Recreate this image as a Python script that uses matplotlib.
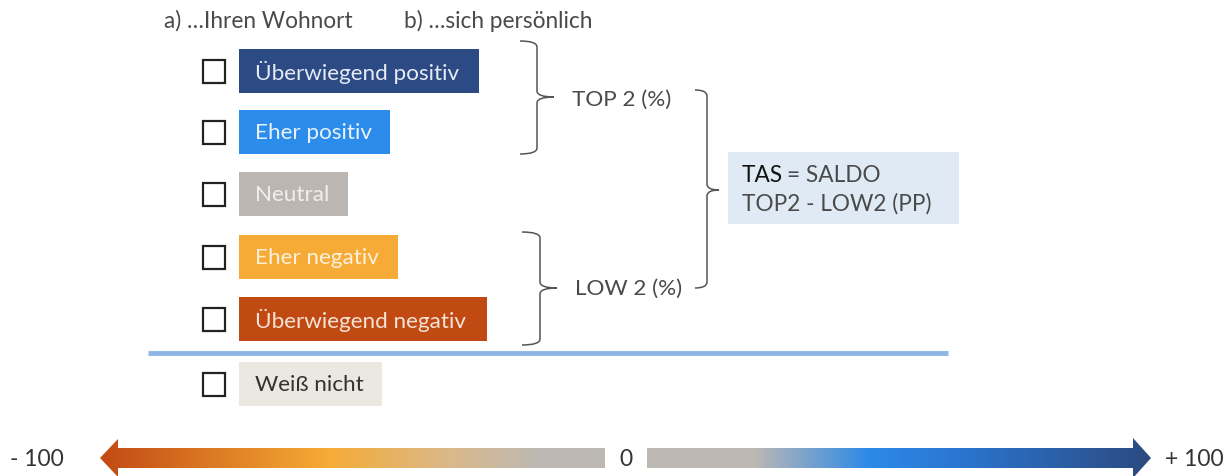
import numpy as np
import matplotlib
matplotlib.use("Agg")
import matplotlib.pyplot as plt
from matplotlib.patches import Rectangle, Polygon, PathPatch
from matplotlib.path import Path
from matplotlib.colors import LinearSegmentedColormap

plt.rcParams['font.family'] = ['Lato', 'DejaVu Sans']

# ---- content ----
headers = ["a) \u2026Ihren Wohnort", "b) \u2026sich pers\u00f6nlich"]
categories = ["\u00dcberwiegend positiv", "Eher positiv", "Neutral",
              "Eher negativ", "\u00dcberwiegend negativ", "Wei\u00df nicht"]
cat_colors = ["#2c4a84", "#2b8ceb", "#bcb6b2", "#f5ab35", "#c04a12", "#ebe8e1"]
cat_text_colors = ["#e6ebf3", "#e8f2fc", "#f1efed", "#fdf1de", "#f6e2d6", "#333333"]
group_labels = ["TOP 2 (%)", "LOW 2 (%)"]
tas_bold = "TAS"
tas_rest = "= SALDO"
tas_line2 = "TOP2 - LOW2 (PP)"
scale_labels = ["- 100", "0", "+ 100"]

# ---- layout (pixel coordinates) ----
W, H = 1230, 476
fig = plt.figure(figsize=(W / 100, H / 100), dpi=100)
ax = fig.add_axes([0, 0, 1, 1])
ax.set_xlim(0, W)
ax.set_ylim(H, 0)
ax.axis('off')

gray = "#4a4a4a"
fw = 'normal'

ax.text(164, 21, headers[0], fontsize=16.3, color=gray, va='center', ha='left', fontweight=fw)
ax.text(404, 21, headers[1], fontsize=16.3, color=gray, va='center', ha='left', fontweight=fw)

box_tops = [49, 110, 172, 235, 297, 362]
box_rights = [479, 390, 348, 398, 487, 382]
box_h = 44
box_left = 239
for i, cat in enumerate(categories):
    y0 = box_tops[i]
    ax.add_patch(Rectangle((box_left, y0), box_rights[i] - box_left, box_h,
                           facecolor=cat_colors[i], edgecolor='none'))
    yc = y0 + box_h / 2
    ax.text(box_left + 16, yc + 1, cat, fontsize=16.2, color=cat_text_colors[i],
            va='center', ha='left', fontweight=fw)
    ax.add_patch(Rectangle((203, yc - 11.5), 22, 23, facecolor='white',
                           edgecolor='#222222', lw=1.6))

# separator line
ax.plot([148, 948], [353, 353], color="#8db5e5", lw=3.5, solid_capstyle='butt')


def brace(x0, x1, xtip, ytop, ybot, ymid, r=6, lw=1.1):
    verts = [(x0, ytop), (x1, ytop), (x1, ytop + r),
             (x1, ymid - r), (x1, ymid), (xtip, ymid),
             (x1, ymid), (x1, ymid + r),
             (x1, ybot - r), (x1, ybot), (x0, ybot)]
    codes = [Path.MOVETO, Path.CURVE3, Path.CURVE3,
             Path.LINETO, Path.CURVE3, Path.CURVE3,
             Path.CURVE3, Path.CURVE3,
             Path.LINETO, Path.CURVE3, Path.CURVE3]
    ax.add_patch(PathPatch(Path(verts, codes), facecolor='none',
                           edgecolor='#555555', lw=lw))


brace(520, 537, 554, 41, 154, 97)
brace(522, 540, 557, 232, 345, 288)
brace(695, 707, 719, 90, 288, 190)

ax.text(572, 100, group_labels[0], fontsize=16.2, color=gray, va='center', ha='left', fontweight=fw)
ax.text(575, 289, group_labels[1], fontsize=16.2, color=gray, va='center', ha='left', fontweight=fw)

# TAS box
ax.add_patch(Rectangle((728, 152), 231, 72, facecolor="#dfeaf5", edgecolor='none'))
t1 = ax.text(742, 176, tas_bold, fontsize=16.3, color="#111111", va='center', ha='left')
ax.annotate(tas_rest, xy=(1, 0.5), xycoords=t1, xytext=(3, 0), textcoords='offset points',
            fontsize=16.3, color=gray, va='center', ha='left', fontweight=fw)
ax.text(742, 204, tas_line2, fontsize=16.3, color=gray, va='center', ha='left', fontweight=fw)

# gradient arrows
yc = 458
left_cmap = LinearSegmentedColormap.from_list(
    "l", [(0, "#c24a14"), (0.45, "#f6ab35"), (0.7, "#d9b98c"), (0.87, "#bdb8b3"), (1, "#bdb8b3")])
right_cmap = LinearSegmentedColormap.from_list(
    "r", [(0, "#bdb8b3"), (0.21, "#bdb8b3"), (0.44, "#2d8ae8"), (0.62, "#2a76d0"), (1, "#2c4a80")])

grad = np.linspace(0, 1, 512).reshape(1, -1)

lx_tip, lx_head, lx_end = 100, 118, 605
left_poly = Polygon([(lx_tip, yc), (lx_head, yc - 19), (lx_head, yc - 10), (lx_end, yc - 10),
                     (lx_end, yc + 10), (lx_head, yc + 10), (lx_head, yc + 19)],
                    closed=True, facecolor='none', edgecolor='none')
ax.add_patch(left_poly)
im = ax.imshow(grad, cmap=left_cmap, aspect='auto', extent=(lx_tip, lx_end, yc + 20, yc - 20),
               interpolation='bilinear')
im.set_clip_path(left_poly)

rx_start, rx_head, rx_tip = 647, 1133, 1151
right_poly = Polygon([(rx_start, yc - 10), (rx_head, yc - 10), (rx_head, yc - 20), (rx_tip, yc),
                      (rx_head, yc + 20), (rx_head, yc + 10), (rx_start, yc + 10)],
                     closed=True, facecolor='none', edgecolor='none')
ax.add_patch(right_poly)
im2 = ax.imshow(grad, cmap=right_cmap, aspect='auto', extent=(rx_start, rx_tip, yc + 21, yc - 21),
                interpolation='bilinear')
im2.set_clip_path(right_poly)

ax.set_xlim(0, W)
ax.set_ylim(H, 0)

ax.text(10, 460, scale_labels[0], fontsize=16.5, color="#333333", va='center', ha='left', fontweight=fw)
ax.text(626, 460, scale_labels[1], fontsize=16.5, color="#333333", va='center', ha='center', fontweight=fw)
ax.text(1165, 460, scale_labels[2], fontsize=16.5, color="#333333", va='center', ha='left', fontweight=fw)

fig.savefig("out.png", dpi=100)
